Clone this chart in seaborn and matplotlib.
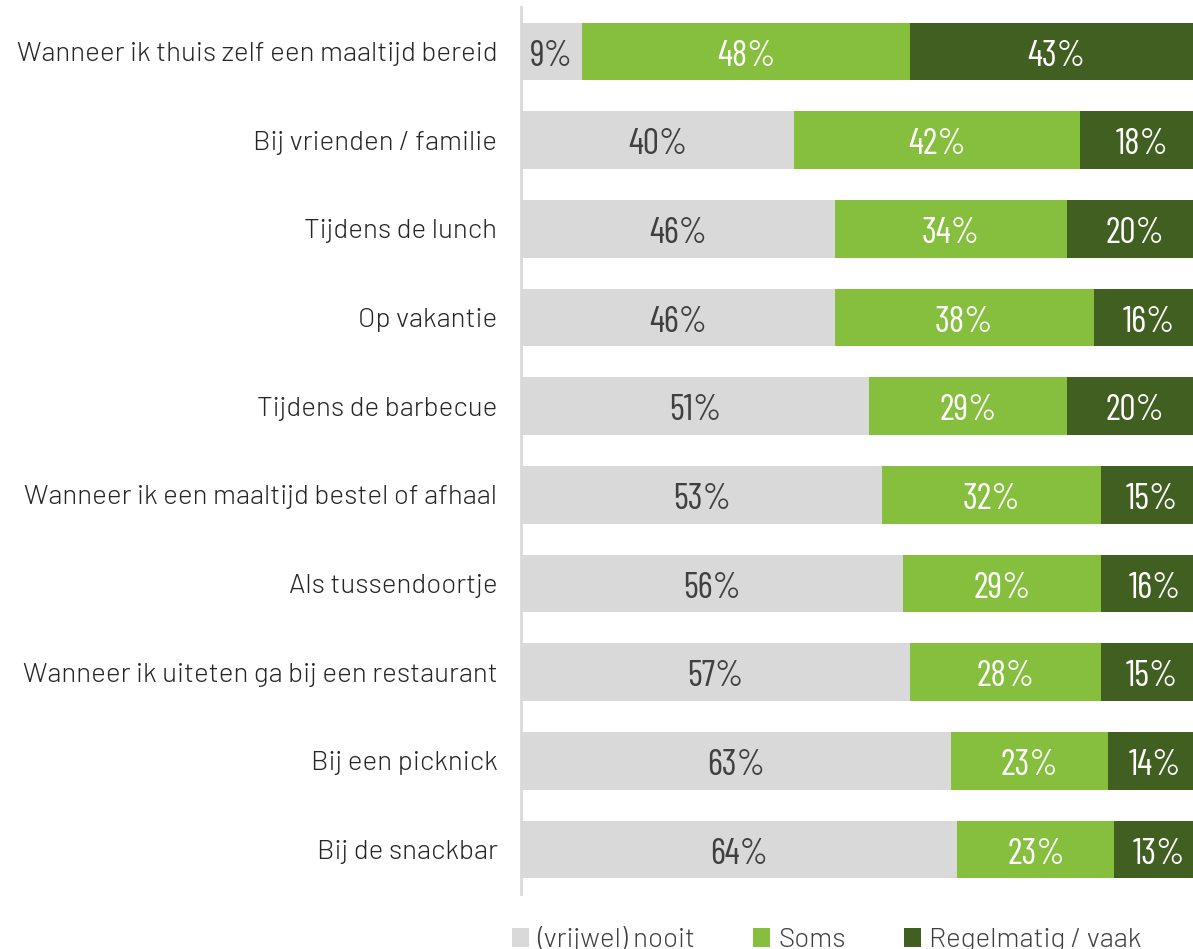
import matplotlib
matplotlib.use("Agg")
import matplotlib.pyplot as plt
from matplotlib.patches import Patch
import seaborn as sns
import pandas as pd

categories = [
    "Wanneer ik thuis zelf een maaltijd bereid",
    "Bij vrienden / familie",
    "Tijdens de lunch",
    "Op vakantie",
    "Tijdens de barbecue",
    "Wanneer ik een maaltijd bestel of afhaal",
    "Als tussendoortje",
    "Wanneer ik uiteten ga bij een restaurant",
    "Bij een picknick",
    "Bij de snackbar",
]
nooit = [9, 40, 46, 46, 51, 53, 56, 57, 63, 64]
soms = [48, 42, 34, 38, 29, 32, 29, 28, 23, 23]
vaak = [43, 18, 20, 16, 20, 15, 16, 15, 14, 13]
series_names = ["(vrijwel) nooit", "Soms", "Regelmatig / vaak"]

colors = ["#D9D9D9", "#86BE3E", "#425F22"]

sns.set_style("white")
plt.rcParams["font.family"] = ["Barlow", "DejaVu Sans"]
label_font = ["Barlow", "DejaVu Sans"]
value_font = ["Barlow Condensed", "DejaVu Sans"]

df = pd.DataFrame({"cat": categories, "nooit": nooit, "soms": soms, "vaak": vaak})
df["c1"] = df["nooit"]
df["c2"] = df["nooit"] + df["soms"]
df["c3"] = df["c2"] + df["vaak"]

fig = plt.figure(figsize=(11.93, 9.49), dpi=100)
# the 100% end sits just past the right edge of the picture, as in the original
ax = fig.add_axes([521 / 1193, 1 - 894 / 949, 682 / 1193, 887 / 949])

# stacked bars drawn as overlapping cumulative totals
for col, c in zip(["c3", "c2", "c1"], colors[::-1]):
    sns.barplot(data=df, x=col, y="cat", color=c, width=0.65, ax=ax,
                saturation=1, linewidth=0)

ax.set_xlim(0, 100)
ax.set_ylim(9.5, -0.5)
ax.set_xlabel("")
ax.set_ylabel("")
ax.set_xticks([])
ax.tick_params(axis="y", length=0, pad=17, labelcolor="#262626")
for lab in ax.get_yticklabels():
    lab.set_fontfamily(label_font)
    lab.set_fontsize(20)
    lab.set_fontweight(300)
for s in ["top", "right", "bottom"]:
    ax.spines[s].set_visible(False)
ax.spines["left"].set_color("#D9D9D9")
ax.spines["left"].set_linewidth(2)

for i in range(len(categories)):
    starts = [0, df["c1"][i], df["c2"][i]]
    vals = [nooit[i], soms[i], vaak[i]]
    for j, (s, v) in enumerate(zip(starts, vals)):
        ax.text(s + v / 2, i + 0.16, f"{v}%", ha="center", va="baseline",
                fontsize=26, family=value_font, fontweight=400,
                color="#404040" if j == 0 else "white")

handles = [Patch(facecolor=c, edgecolor="none") for c in colors]
fig.legend(handles, series_names, loc="upper left", bbox_to_anchor=(487 / 1193, 1 - 901 / 949),
           ncol=3, frameon=False, handlelength=0.6, handleheight=0.65,
           handletextpad=0.3, columnspacing=2.1, labelcolor="#404040",
           prop={"family": label_font, "size": 20, "weight": 300})

fig.savefig("out.png", dpi=100)
